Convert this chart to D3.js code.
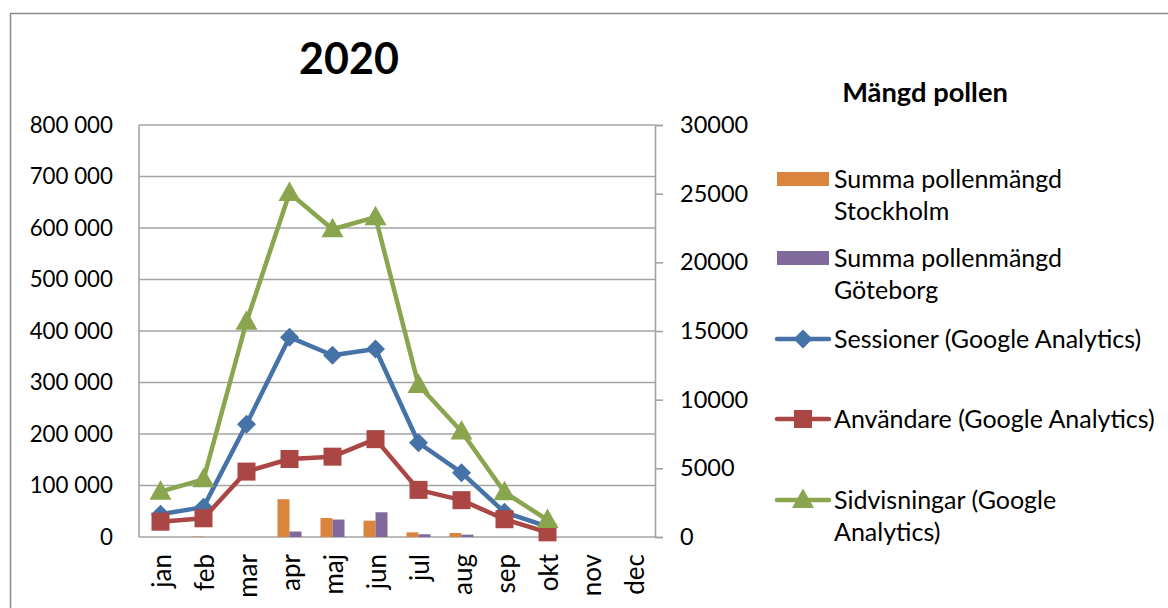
<!DOCTYPE html>
<html><head><meta charset="utf-8">
<script src="https://cdn.jsdelivr.net/npm/d3@7"></script>
<style>html,body{margin:0;padding:0;background:#fff;} svg{display:block;}</style>
</head><body>
<script>
const months = ['jan','feb','mar','apr','maj','jun','jul','aug','sep','okt','nov','dec'];
const stockholm = [0, 30, 0, 2750, 1380, 1190, 340, 290, 0, 0, 0, 0];
const goteborg  = [0, 0, 0, 400, 1270, 1800, 200, 170, 0, 0, 0, 0];
const sessioner    = [44000, 58000, 219000, 388000, 353000, 365000, 183000, 125000, 48000, 20000, null, null];
const anvandare    = [29700, 36300, 127000, 151500, 156000, 190000, 91500, 71500, 34500, 9000, null, null];
const sidvisningar = [88000, 112000, 418000, 668000, 597500, 621000, 295000, 205000, 87000, 33000, null, null];
const leftTicks  = [0,100000,200000,300000,400000,500000,600000,700000,800000];
const rightTicks = [0,5000,10000,15000,20000,25000,30000];
const title = '2020';
const legendTitle = 'Mängd pollen';

const W = 1168, H = 608;
const FONT = 'Lato, Carlito, sans-serif';
const svg = d3.select('body').append('svg').attr('width', W).attr('height', H);

// outer chart border
svg.append('rect').attr('x', 10.5).attr('y', 13.5).attr('width', 1200).attr('height', 700)
  .attr('fill', 'none').attr('stroke', '#8c8c8c').attr('stroke-width', 1.5);

const P = {l: 139, r: 655, t: 125, b: 537};
const x = d3.scaleBand().domain(months).range([P.l, P.r]);
const yL = d3.scaleLinear().domain([0, 800000]).range([P.b, P.t]);
const yR = d3.scaleLinear().domain([0, 30000]).range([P.b, P.t]);
const sub = d3.scaleBand().domain(['s','g']).range([-12, 12]);

const grid = '#a3a3a3';
// gridlines
svg.append('g').selectAll('line').data(leftTicks).join('line')
  .attr('x1', P.l).attr('x2', P.r).attr('y1', d => yL(d)).attr('y2', d => yL(d))
  .attr('stroke', grid).attr('stroke-width', 1.6);
// plot area left edge
svg.append('line').attr('x1', P.l).attr('x2', P.l).attr('y1', P.t).attr('y2', P.b).attr('stroke', grid).attr('stroke-width', 1.6);

// left axis labels
const fmt = d => d3.format(',')(d).replace(/,/g, ' ');
svg.append('g').selectAll('text').data(leftTicks).join('text')
  .attr('x', 113).attr('y', d => yL(d)).attr('dy', '0.35em').attr('text-anchor', 'end')
  .attr('font-family', FONT).attr('font-size', 22.3).attr('fill', '#000').text(fmt);

// right axis
const gR = svg.append('g').attr('transform', `translate(${P.r},0)`)
  .call(d3.axisRight(yR).tickValues(rightTicks).tickSize(8).tickPadding(17).tickFormat(d3.format('d')));
gR.select('.domain').attr('stroke', grid).attr('stroke-width', 1.6);
gR.selectAll('.tick line').attr('stroke', grid).attr('stroke-width', 1.6);
gR.selectAll('.tick text').attr('font-family', FONT).attr('font-size', 23.5).attr('fill', '#000');

// x axis labels
svg.append('g').selectAll('text').data(months).join('text')
  .attr('transform', d => `translate(${x(d) + x.bandwidth()/2},554) rotate(-90)`)
  .attr('text-anchor', 'end').attr('dominant-baseline', 'central')
  .attr('font-family', FONT).attr('font-size', 26).attr('fill', '#000').text(d => d);

// bars
const barData = months.map((m, i) => [{m, k: 's', v: stockholm[i]}, {m, k: 'g', v: goteborg[i]}]).flat();
const barColor = {s: '#DB843D', g: '#80699B'};
svg.append('g').selectAll('rect').data(barData.filter(d => d.v > 0)).join('rect')
  .attr('x', d => x(d.m) + x.bandwidth()/2 + sub(d.k)).attr('width', sub.bandwidth())
  .attr('y', d => yR(d.v)).attr('height', d => yR(0) - yR(d.v)).attr('fill', d => barColor[d.k]);

// line series
const diamond = 'M0,-9.5L9.5,0L0,9.5L-9.5,0Z';
const square = 'M-9,-9H9V9H-9Z';
const triangle = 'M0,-11.5L11,8L-11,8Z';
const series = [
  {vals: sessioner, color: '#4572A7', mk: diamond},
  {vals: anvandare, color: '#AA4643', mk: square},
  {vals: sidvisningar, color: '#89A54E', mk: triangle},
];
const cx = i => x(months[i]) + x.bandwidth()/2;
series.forEach(s => {
  const pts = s.vals.map((v, i) => ({i, v})).filter(d => d.v != null);
  const line = d3.line().x(d => cx(d.i)).y(d => yL(d.v));
  svg.append('path').attr('d', line(pts)).attr('fill', 'none').attr('stroke', s.color)
    .attr('stroke-width', 4.5).attr('stroke-linejoin', 'round').attr('stroke-linecap', 'round');
  svg.append('g').selectAll('path').data(pts).join('path')
    .attr('d', s.mk).attr('transform', d => `translate(${cx(d.i)},${yL(d.v)})`).attr('fill', s.color);
});

// title
svg.append('text').attr('x', 349).attr('y', 74).attr('text-anchor', 'middle')
  .attr('font-family', FONT).attr('font-weight', 'bold').attr('font-size', 43).text(title);

// legend
const L = svg.append('g');
L.append('text').attr('x', 925).attr('y', 92).attr('dy', '0.35em').attr('text-anchor', 'middle')
  .attr('font-family', FONT).attr('font-weight', 'bold').attr('font-size', 27.3).text(legendTitle);
const legendItems = [
  {lines: ['Summa pollenmängd', 'Stockholm'], y: 179, type: 'bar', color: '#DB843D'},
  {lines: ['Summa pollenmängd', 'Göteborg'], y: 258, type: 'bar', color: '#80699B'},
  {lines: ['Sessioner (Google Analytics)'], y: 339, type: 'line', color: '#4572A7', mk: diamond},
  {lines: ['Användare (Google Analytics)'], y: 419, type: 'line', color: '#AA4643', mk: square},
  {lines: ['Sidvisningar (Google', 'Analytics)'], y: 500, type: 'line', color: '#89A54E', mk: triangle},
];
legendItems.forEach(it => {
  if (it.type === 'bar') {
    L.append('rect').attr('x', 777).attr('y', it.y - 7).attr('width', 52).attr('height', 14).attr('fill', it.color);
  } else {
    L.append('line').attr('x1', 777).attr('x2', 829).attr('y1', it.y).attr('y2', it.y)
      .attr('stroke', it.color).attr('stroke-width', 4.5).attr('stroke-linecap', 'round');
    L.append('path').attr('d', it.mk).attr('transform', `translate(803,${it.y})`).attr('fill', it.color);
  }
  it.lines.forEach((t, j) => {
    L.append('text').attr('x', 834).attr('y', it.y + j * 32).attr('dy', '0.35em')
      .attr('font-family', FONT).attr('font-size', 25).attr('fill', '#000').text(t);
  });
});
</script>
</body></html>
